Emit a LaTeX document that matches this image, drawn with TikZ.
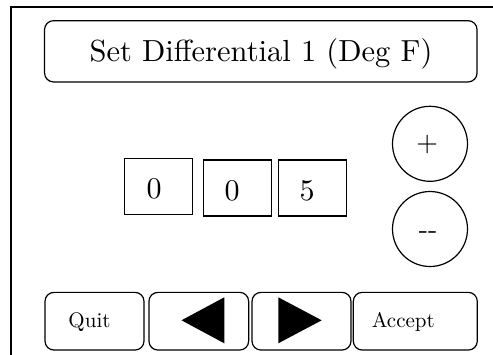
\documentclass[tikz,border=0pt]{standalone}
\usepackage{fontspec}
\setmainfont{lmroman10-regular.otf}
\begin{document}
\begin{tikzpicture}[x=1pt,y=-1pt,
  framestyle/.style={line width=2pt},
  rbox/.style={draw, line width=1.2pt, rounded corners=9pt, inner sep=0pt},
  digitbox/.style={draw, line width=1.2pt, inner sep=0pt, minimum width=68pt, minimum height=56pt},
  roundbtn/.style={draw, circle, line width=1.2pt, inner sep=0pt, minimum size=75pt},
  bigtxt/.style={font=\fontsize{30}{36}\selectfont, inner sep=0pt, anchor=base},
  titletxt/.style={font=\fontsize{30.5}{36}\selectfont, inner sep=0pt, anchor=base},
  btntxt/.style={font=\fontsize{21}{25}\selectfont, inner sep=0pt, anchor=base},
  signtxt/.style={font=\fontsize{28}{33}\selectfont, inner sep=0pt},
  arrowfill/.style={fill=black}]
\useasboundingbox (0,0) rectangle (493,354);
\clip (0,0) rectangle (493,354);
\fill[white] (0,0) rectangle (493,354);
% outer frame (runs off the right and bottom edges)
\draw[framestyle] (11,7) rectangle (530,380);
% title
\node[rbox, minimum width=432.5pt, minimum height=61.3pt] (title) at (260.8,51.3) {};
\node[titletxt] (titletext) at (261,61.5) {Set Differential 1 (Deg F)};
% digit boxes
\node[digitbox] (d1) at (158.5,186.3) {};
\node[digitbox] (d2) at (237.2,188) {};
\node[digitbox] (d3) at (312.2,188) {};
\node[bigtxt] (t1) at (154.2,198.5) {0};
\node[bigtxt] (t2) at (232,200.5) {0};
\node[bigtxt] (t3) at (307,200.5) {5};
% plus / minus
\node[roundbtn] (plus) at (430,143.8) {};
\node[roundbtn] (minus) at (430,229) {};
\node[signtxt] (plustext) at (427.3,144.5) {+};
\node[signtxt] (minustext) at (428.2,235.3) {-{}-};
% bottom buttons
\node[rbox, minimum width=99pt, minimum height=57.7pt] (quit) at (94.5,321.2) {};
\node[rbox, minimum width=99.7pt, minimum height=57.7pt] (left) at (198.8,321.2) {};
\node[rbox, minimum width=99pt, minimum height=57.7pt] (right) at (301.5,321.2) {};
\node[rbox, minimum width=124pt, minimum height=57.7pt] (accept) at (415.3,321.2) {};
\node[btntxt] (quittext) at (89.5,327) {Quit};
\node[btntxt] (accepttext) at (403.3,327) {Accept};
% arrow glyphs
\fill[arrowfill] (181.5,320.3) -- (224.3,297.3) -- (224.3,343.3) -- cycle;
\fill[arrowfill] (321.7,320.3) -- (278.3,297.3) -- (278.3,343.3) -- cycle;
\end{tikzpicture}
\end{document}
